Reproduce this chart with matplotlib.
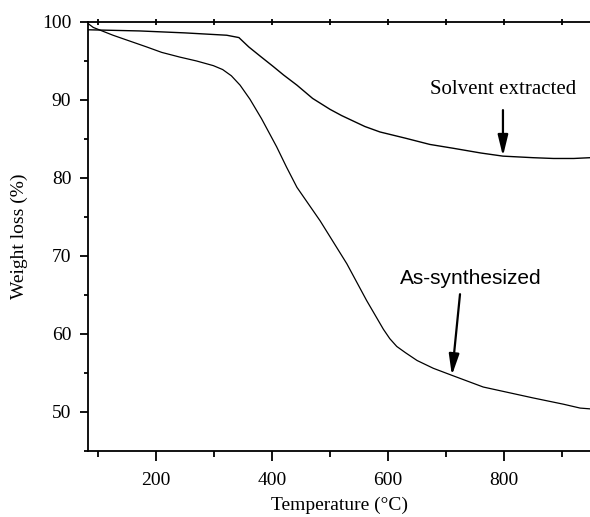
import matplotlib
matplotlib.use("Agg")
import matplotlib.pyplot as plt
from matplotlib.ticker import MultipleLocator

# TGA curves (temperature in deg C, weight in %)
temp_solvent = [83, 172, 250, 322, 343, 360, 380, 402, 420, 443, 470, 500,
                520, 540, 560, 586, 630, 672, 713, 760, 798, 850, 885, 920, 948]
weight_solvent = [99.0, 98.85, 98.6, 98.3, 98.0, 96.8, 95.6, 94.3, 93.2, 91.9,
                  90.2, 88.8, 88.0, 87.3, 86.6, 85.9, 85.1, 84.3, 83.8, 83.2,
                  82.8, 82.6, 82.5, 82.5, 82.6]

temp_as = [83, 92, 126, 184, 210, 241, 270, 299, 315, 330, 345, 362, 382,
           408, 425, 443, 483, 529, 563, 592, 603, 615, 630, 650, 678, 710,
           764, 850, 902, 931, 948]
weight_as = [99.8, 99.3, 98.3, 96.8, 96.1, 95.5, 95.0, 94.4, 93.9, 93.1,
             91.9, 90.1, 87.6, 84.0, 81.4, 78.8, 74.5, 69.0, 64.3, 60.6,
             59.4, 58.4, 57.6, 56.6, 55.6, 54.7, 53.2, 51.8, 51.0, 50.5, 50.4]

x_ticks = [200, 400, 600, 800]
y_ticks = [50, 60, 70, 80, 90, 100]

serif = "Liberation Serif"
sans = "Liberation Sans"

fig = plt.figure(figsize=(5.9, 5.17), dpi=100)
ax = fig.add_axes([0.1492, 0.1277, 0.8508, 0.8298])

ax.plot(temp_solvent, weight_solvent, color="black", lw=1.0)
ax.plot(temp_as, weight_as, color="black", lw=0.9)

ax.set_xlim(83, 948)
ax.set_ylim(45, 100)

ax.set_xticks(x_ticks)
ax.set_yticks(y_ticks)
ax.xaxis.set_minor_locator(MultipleLocator(100))
ax.yaxis.set_minor_locator(MultipleLocator(5))

for side in ["left", "bottom", "top"]:
    ax.spines[side].set_linewidth(1.3)
ax.spines["right"].set_visible(False)

ax.tick_params(axis="both", which="major", direction="out", length=6,
               width=1.3, labelsize=14, pad=6)
ax.tick_params(axis="both", which="minor", direction="out", length=3,
               width=1.3)
ax.tick_params(axis="x", which="major", pad=9)
ax.tick_params(axis="x", which="both", top=True, labeltop=False)
for lbl in ax.get_xticklabels() + ax.get_yticklabels():
    lbl.set_fontfamily(serif)

# top ticks are small marks straddling the spine, bottom ones point down
for t in ax.xaxis.get_major_ticks() + ax.xaxis.get_minor_ticks():
    t.tick2line.set_marker("|")
    t.tick2line.set_markersize(4)
for t in ax.xaxis.get_major_ticks():
    t.tick1line.set_markersize(7)
for t in ax.xaxis.get_minor_ticks():
    t.tick1line.set_markersize(4)

ax.set_xlabel("Temperature (\u00b0C)", fontfamily=serif, fontsize=14, labelpad=6)
ax.set_ylabel("Weight loss (%)", fontfamily=serif, fontsize=14, labelpad=10)

arrow = dict(arrowstyle="-|>,head_length=0.9,head_width=0.22", color="black",
             lw=1.6, shrinkA=0, shrinkB=0, mutation_scale=14)

ax.text(798, 91.4, "Solvent extracted", fontfamily=serif, fontsize=15,
        ha="center", va="center")
ax.annotate("", xy=(798, 82.8), xytext=(798, 88.7), arrowprops=arrow)

ax.text(743, 67.1, "As-synthesized", fontfamily=sans, fontsize=15,
        ha="center", va="center")
ax.annotate("", xy=(710, 54.7), xytext=(724, 65.1), arrowprops=arrow)

fig.savefig("out.png", dpi=100)
